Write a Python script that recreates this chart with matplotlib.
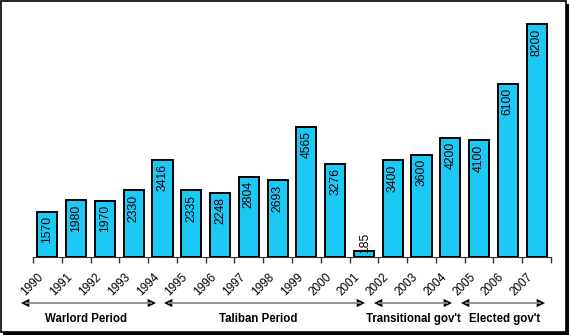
import matplotlib
matplotlib.use("Agg")
import matplotlib.pyplot as plt
from matplotlib.patches import Rectangle, FancyArrowPatch

years = [str(y) for y in range(1990, 2008)]
values = [1570, 1980, 1970, 2330, 3416, 2335, 2248, 2804, 2693, 4565,
          3276, 185, 3400, 3600, 4200, 4100, 6100, 8200]
periods = ["Warlord Period", "Taliban Period", "Transitional gov't",
           "Elected gov't"]

# layout of the period arrows and captions, in figure pixels
arrow_px = [(21, 156), (164, 365), (374, 452), (461, 545)]
caption_px = [86, 258, 413, 505]

plt.rcParams["font.family"] = ["Liberation Sans", "DejaVu Sans"]

W, H = 570, 335
fig = plt.figure(figsize=(W / 100, H / 100), dpi=100)

# frame with a shadow on right and bottom
fig.patches.append(Rectangle((3 / W, 0), (W - 4) / W, (H - 4) / H,
                             transform=fig.transFigure, facecolor="black",
                             edgecolor="none", zorder=-10))
fig.patches.append(Rectangle((1 / W, 3 / H), (W - 5) / W, (H - 4) / H,
                             transform=fig.transFigure, facecolor="white",
                             edgecolor="black", lw=1.2, zorder=-9))

ax = fig.add_axes([33 / W, 78.5 / H, 518 / W, 255 / H])
ax.patch.set_alpha(0)
x = list(range(len(values)))
ax.bar(x, values, width=0.7, color="#1CC8F4", edgecolor="black", lw=1.4)
ax.set_xlim(-0.5, len(values) - 0.5)
ax.set_ylim(0, 9000)

for xi, v in zip(x, values):
    if v > 1000:
        ax.text(xi, v - 150, str(v), rotation=90, ha="center", va="top",
                fontsize=8.8)
    else:
        ax.text(xi + 0.03, v - 60, str(v), rotation=90, ha="center",
                va="bottom", fontsize=8.8)

for s in ["top", "right", "left"]:
    ax.spines[s].set_visible(False)
ax.spines["bottom"].set_color("#333333")
ax.set_yticks([])
ax.set_xticks([i - 0.5 for i in range(len(values) + 1)])
ax.set_xticklabels([])
ax.tick_params(axis="x", length=4, width=1, color="#333333", direction="out")

for xi, lab in zip(x, years):
    ax.annotate(lab, xy=(xi, 0), xycoords=("data", "axes fraction"),
                xytext=(-7, -10.5), textcoords="offset points",
                rotation=45, ha="right", va="top", rotation_mode="anchor",
                fontsize=8.5)

# period arrows (grey shaft, black heads) and captions below the axis
ya = 1 - 303 / H
for (a, b), cx, lab in zip(arrow_px, caption_px, periods):
    fig.add_artist(plt.Line2D([(a + 5) / W, (b - 5) / W], [ya, ya],
                              transform=fig.transFigure, color="#8a8a8a",
                              lw=1.3))
    mid = (a + b) / 2 / W
    for end in (a, b):
        fig.add_artist(FancyArrowPatch(
            (mid, ya), (end / W, ya), transform=fig.transFigure,
            arrowstyle="-|>,head_length=0.6,head_width=0.3",
            color="black", lw=0, mutation_scale=10,
            shrinkA=0, shrinkB=0))
    fig.text(cx / W, 1 - 319 / H, lab, ha="center", va="center",
             fontsize=8.3, fontweight="bold")

fig.savefig("out.png", dpi=100)
